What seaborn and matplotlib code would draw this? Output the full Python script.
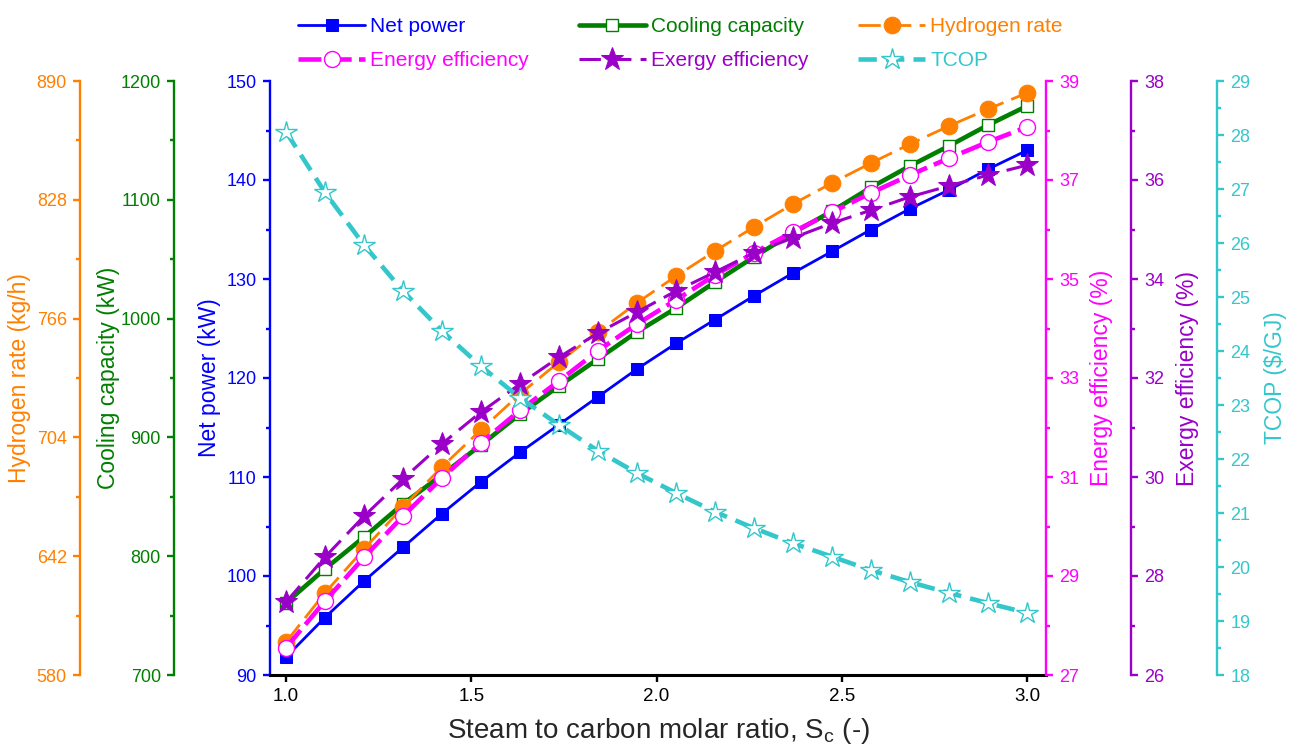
import numpy as np
import pandas as pd
import matplotlib
matplotlib.use("Agg")
import matplotlib.pyplot as plt
import seaborn as sns
from matplotlib.ticker import AutoMinorLocator

# ---------------- data ----------------
sc_ratio = [1.0, 1.105, 1.211, 1.316, 1.421, 1.526, 1.632, 1.737, 1.842, 1.947,
            2.053, 2.158, 2.263, 2.368, 2.474, 2.579, 2.684, 2.789, 2.895, 3.0]
net_power = [91.8, 95.8, 99.5, 102.9, 106.3, 109.5, 112.5, 115.3, 118.1, 120.9,
             123.5, 125.9, 128.3, 130.6, 132.8, 135.0, 137.1, 139.0, 141.1, 143.0]
cooling_capacity = [760.6, 789.2, 816.2, 844.0, 868.4, 893.6, 919.7, 943.3, 966.0, 988.7,
                    1008.9, 1030.8, 1051.9, 1072.1, 1090.5, 1110.5, 1128.5, 1145.3, 1163.0, 1179.0]
hydrogen_rate = [597.2, 622.8, 645.8, 667.7, 688.6, 707.9, 726.7, 743.4, 759.0, 774.2,
                 788.2, 801.3, 813.8, 825.8, 836.8, 847.2, 857.1, 866.5, 875.4, 883.8]
energy_eff = [27.55, 28.49, 29.38, 30.21, 30.98, 31.69, 32.35, 32.94, 33.55, 34.09,
              34.58, 35.08, 35.53, 35.95, 36.35, 36.74, 37.10, 37.44, 37.77, 38.07]
exergy_eff = [27.47, 28.38, 29.21, 29.96, 30.67, 31.31, 31.88, 32.42, 32.91, 33.33,
              33.76, 34.14, 34.53, 34.83, 35.13, 35.39, 35.66, 35.88, 36.10, 36.30]
tcop = [28.06, 26.94, 25.96, 25.11, 24.37, 23.72, 23.13, 22.63, 22.15, 21.74,
        21.37, 21.02, 20.72, 20.44, 20.19, 19.94, 19.72, 19.52, 19.33, 19.15]

x_ticks = [1.0, 1.5, 2.0, 2.5, 3.0]
net_ticks = [90, 100, 110, 120, 130, 140, 150]
cool_ticks = [700, 800, 900, 1000, 1100, 1200]
h2_ticks = [580, 642, 704, 766, 828, 890]
energy_ticks = [27, 29, 31, 33, 35, 37, 39]
exergy_ticks = [26, 28, 30, 32, 34, 36, 38]
tcop_ticks = [18, 19, 20, 21, 22, 23, 24, 25, 26, 27, 28, 29]

df = pd.DataFrame({
    "sc": sc_ratio, "net": net_power, "cool": cooling_capacity, "h2": hydrogen_rate,
    "energy": energy_eff, "exergy": exergy_eff, "tcop": tcop,
})

# ---------------- style ----------------
sns.set_style("ticks")
plt.rcParams["font.family"] = ["Liberation Sans", "DejaVu Sans"]
plt.rcParams["mathtext.fontset"] = "custom"
plt.rcParams["mathtext.rm"] = "Liberation Sans"
plt.rcParams["mathtext.it"] = "Liberation Sans:italic"

C_BLUE = "#0000FF"
C_GREEN = "#007F00"
C_ORANGE = "#FF8000"
C_MAGENTA = "#FF00FF"
C_PURPLE = "#9A00C8"
C_CYAN = "#33C7CC"

TICK_FS = 13
LABEL_FS = 16.5
SPINE_W = 1.7
MAJ_LEN = 5
MIN_LEN = 2.8
PAD = 4.5

fig = plt.figure(figsize=(12.95, 7.53), dpi=100)
ax = fig.add_axes([270 / 1295, 78 / 753, 776 / 1295, 594 / 753])

ax_cool = ax.twinx()
ax_h2 = ax.twinx()
ax_en = ax.twinx()
ax_ex = ax.twinx()
ax_tc = ax.twinx()


def style_axis(a, color, side, pos, ticks, lim, label, labelpad, minor_n=2):
    for s in a.spines.values():
        s.set_visible(False)
    sp = a.spines[side]
    sp.set_visible(True)
    sp.set_position(("axes", pos))
    sp.set_color(color)
    sp.set_linewidth(SPINE_W)
    if side == "left":
        a.yaxis.set_ticks_position("left")
        a.yaxis.set_label_position("left")
    else:
        a.yaxis.set_ticks_position("right")
        a.yaxis.set_label_position("right")
    a.set_ylim(*lim)
    a.set_yticks(ticks)
    a.yaxis.set_minor_locator(AutoMinorLocator(minor_n))
    a.tick_params(axis="y", which="major", direction="out", length=MAJ_LEN, width=SPINE_W,
                  colors=color, labelsize=TICK_FS, pad=PAD)
    a.tick_params(axis="y", which="minor", direction="out", length=MIN_LEN, width=SPINE_W,
                  colors=color)
    a.set_ylabel(label, color=color, fontsize=LABEL_FS, labelpad=labelpad)


# main axis (net power)
sns.lineplot(data=df, x="sc", y="net", ax=ax, color=C_BLUE, lw=2.0,
             marker="s", markersize=9, markeredgecolor=C_BLUE, label="Net power")
# cooling
sns.lineplot(data=df, x="sc", y="cool", ax=ax_cool, color=C_GREEN, lw=3.3,
             marker="s", markersize=9, markerfacecolor="white", markeredgecolor=C_GREEN,
             markeredgewidth=1.0, label="Cooling capacity")
# hydrogen
sns.lineplot(data=df, x="sc", y="h2", ax=ax_h2, color=C_ORANGE, lw=2.0,
             linestyle=(0, (8, 3)),
             marker="o", markersize=12, markeredgecolor=C_ORANGE, label="Hydrogen rate")
# energy
sns.lineplot(data=df, x="sc", y="energy", ax=ax_en, color=C_MAGENTA, lw=3.3,
             linestyle=(0, (5, 1.6)),
             marker="o", markersize=11.5, markerfacecolor="white", markeredgecolor=C_MAGENTA,
             markeredgewidth=1.0, label="Energy efficiency")
# exergy
sns.lineplot(data=df, x="sc", y="exergy", ax=ax_ex, color=C_PURPLE, lw=2.2,
             linestyle=(0, (7, 3)),
             marker="*", markersize=17, markeredgecolor=C_PURPLE, label="Exergy efficiency")
# TCOP
sns.lineplot(data=df, x="sc", y="tcop", ax=ax_tc, color=C_CYAN, lw=3.3,
             linestyle=(0, (4, 2)),
             marker="*", markersize=16, markerfacecolor="white", markeredgecolor=C_CYAN,
             markeredgewidth=1.0, label="TCOP")

# main axes styling
ax.set_xlim(0.957, 3.051)
ax.set_xticks(x_ticks)
ax.set_xticklabels([f"{t:.1f}" for t in x_ticks])
ax.tick_params(axis="x", which="major", direction="out", length=MAJ_LEN, width=SPINE_W,
               colors="black", labelsize=TICK_FS + 0.5, pad=PAD)
ax.spines["bottom"].set_color("black")
ax.spines["bottom"].set_linewidth(SPINE_W * 1.3)
ax.spines["top"].set_visible(False)
ax.spines["right"].set_visible(False)
ax.spines["left"].set_color(C_BLUE)
ax.spines["left"].set_linewidth(SPINE_W)
ax.set_ylim(90, 150)
ax.set_yticks(net_ticks)
ax.yaxis.set_minor_locator(AutoMinorLocator(2))
ax.tick_params(axis="y", which="major", direction="out", length=MAJ_LEN, width=SPINE_W,
               colors=C_BLUE, labelsize=TICK_FS, pad=PAD)
ax.tick_params(axis="y", which="minor", direction="out", length=MIN_LEN, width=SPINE_W,
               colors=C_BLUE)
ax.set_ylabel("Net power (kW)", color=C_BLUE, fontsize=LABEL_FS, labelpad=4)
ax.set_xlabel(r"Steam to carbon molar ratio, $\mathrm{S_c}$ (-)", fontsize=20, labelpad=8)

style_axis(ax_cool, C_GREEN, "left", -96 / 776, cool_ticks, (700, 1200),
           "Cooling capacity (kW)", 0.5)
style_axis(ax_h2, C_ORANGE, "left", -190 / 776, h2_ticks, (580, 890),
           "Hydrogen rate (kg/h)", 4)
style_axis(ax_en, C_MAGENTA, "right", 1.0, energy_ticks, (27, 39),
           "Energy efficiency (%)", 8)
style_axis(ax_ex, C_PURPLE, "right", 861 / 776, exergy_ticks, (26, 38),
           "Exergy efficiency (%)", 8.5)
style_axis(ax_tc, C_CYAN, "right", 947 / 776, tcop_ticks, (18, 29),
           "TCOP ($/GJ)", 10)

for a in [ax_cool, ax_h2, ax_en, ax_ex, ax_tc]:
    a.set_xlim(0.957, 3.051)
    a.xaxis.set_visible(False)

# legend
handles, labels = [], []
for a in [ax, ax_cool, ax_h2, ax_en, ax_ex, ax_tc]:
    h, l = a.get_legend_handles_labels()
    handles += h
    labels += l
    if a.get_legend() is not None:
        a.get_legend().remove()
order = [0, 3, 1, 4, 2, 5]
leg_colors = [C_BLUE, C_MAGENTA, C_GREEN, C_PURPLE, C_ORANGE, C_CYAN]
leg = fig.legend([handles[i] for i in order], [labels[i] for i in order],
                 loc="upper left", bbox_to_anchor=(290 / 1295, 0.988), ncol=3,
                 frameon=False, fontsize=15, handlelength=3.2, handletextpad=0.25,
                 columnspacing=2.4, labelspacing=0.7, borderaxespad=0.0)
for txt, c in zip(leg.get_texts(), leg_colors):
    txt.set_color(c)

fig.savefig("out.png", dpi=100)
